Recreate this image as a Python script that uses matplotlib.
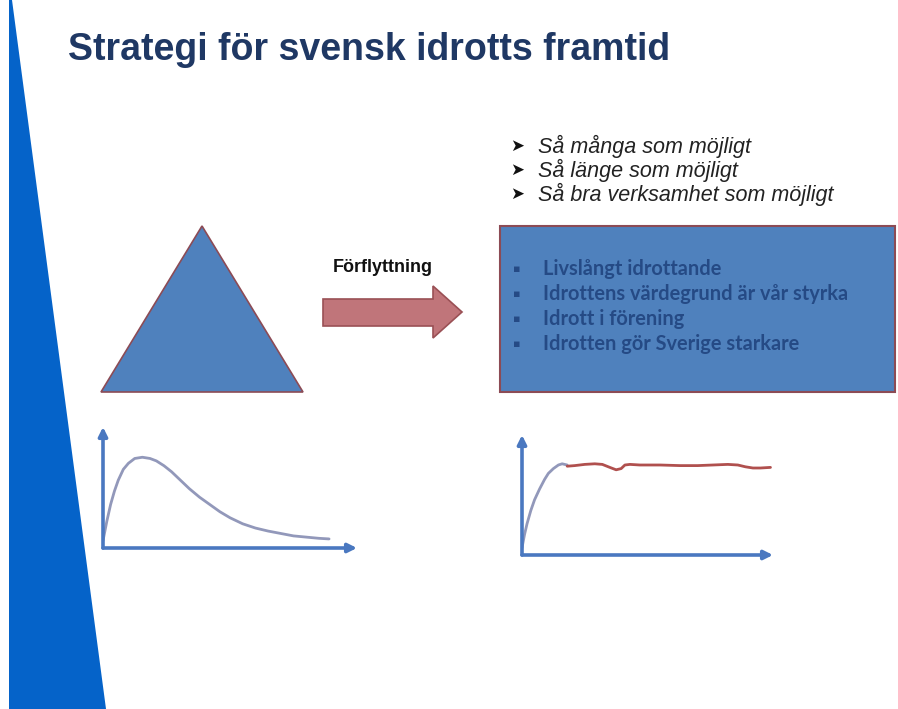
import matplotlib
matplotlib.use('Agg')
import matplotlib.pyplot as plt
from matplotlib.patches import Polygon, Rectangle

# text content
title = 'Strategi för svensk idrotts framtid'
goals = ['Så många som möjligt', 'Så länge som möjligt', 'Så bra verksamhet som möjligt']
values_list = ['Livslångt idrottande', 'Idrottens värdegrund är vår styrka',
               'Idrott i förening', 'Idrotten gör Sverige starkare']
arrow_label = 'Förflyttning'

# left sketch: participation peaks early then drops off
left_x = [0.0, 0.15, 0.3, 0.45, 0.6, 0.8, 1.0, 1.25, 1.55, 1.85, 2.1, 2.4, 2.7,
          3.0, 3.4, 3.8, 4.2, 4.6, 5.0, 5.5, 6.0, 6.5, 7.0, 7.5, 8.0, 8.5, 8.9]
left_y = [0.06, 0.22, 0.36, 0.47, 0.56, 0.65, 0.70, 0.74, 0.75, 0.74, 0.72, 0.68, 0.63,
          0.57, 0.49, 0.42, 0.36, 0.30, 0.25, 0.20, 0.165, 0.14, 0.12, 0.10, 0.09, 0.08, 0.075]

# right sketch: quick rise, then a steady level
rise_x = [0.0, 0.1, 0.2, 0.35, 0.5, 0.7, 0.9, 1.05, 1.25, 1.45, 1.6, 1.8]
rise_y = [0.06, 0.17, 0.26, 0.37, 0.46, 0.55, 0.63, 0.68, 0.72, 0.75, 0.76, 0.75]
flat_x = [1.8, 2.1, 2.5, 2.9, 3.2, 3.5, 3.75, 3.95, 4.1, 4.3, 4.7, 5.5, 6.3, 7.0, 7.6,
          8.2, 8.6, 8.9, 9.2, 9.5, 9.9]
flat_y = [0.74, 0.745, 0.755, 0.76, 0.755, 0.73, 0.71, 0.72, 0.75, 0.755, 0.75, 0.75, 0.745,
          0.745, 0.75, 0.755, 0.75, 0.735, 0.725, 0.725, 0.73]

W, H = 898, 709
fig = plt.figure(figsize=(W / 100, H / 100), dpi=100)
fig.set_facecolor('white')

ax = fig.add_axes([0, 0, 1, 1])
ax.set_xlim(0, W)
ax.set_ylim(H, 0)
ax.axis('off')

# blue wedge on the left edge
ax.add_patch(Polygon([(9, 0), (12, 0), (106, H), (9, H)], closed=True,
                     facecolor='#0563C9', edgecolor='none'))

ax.text(68, 50, title, fontsize=27, fontweight='bold', color='#1F3864',
        family='Liberation Sans', va='center', ha='left')

# triangle
ax.add_patch(Polygon([(202, 226), (101, 392), (303, 392)], closed=True,
                     facecolor='#4F81BD', edgecolor='#8C4B55', lw=1.2))

# arrow
ax.add_patch(Polygon([(323, 299), (433, 299), (433, 286), (462, 312),
                      (433, 338), (433, 326), (323, 326)], closed=True,
                     facecolor='#C0757A', edgecolor='#9A5055', lw=1.2))
ax.text(383, 268, arrow_label, fontsize=13, fontweight='bold', color='#111111',
        family='Liberation Sans', ha='center', va='center')

# goals above the box
for i, g in enumerate(goals):
    y = 146 + i * 24
    ax.text(510, y, '\u27a4', fontsize=12, color='#111111',
            family=['DejaVu Sans'], ha='left', va='center')
    ax.text(538, y, g, fontsize=15.5, style='italic', color='#222222',
            family='Liberation Sans', ha='left', va='center')

# box with core values
ax.add_patch(Rectangle((500, 226), 395, 166, facecolor='#4F81BD',
                       edgecolor='#8C4B55', lw=1.5))
for i, v in enumerate(values_list):
    y = 269 + i * 25
    ax.text(517, y, '\u25aa', fontsize=8, color='#254A85',
            family=['DejaVu Sans'], ha='center', va='center')
    ax.text(543, y, v, fontsize=14.4, fontweight='bold', color='#254A85',
            family='Lato', ha='left', va='center')


def sketch_axes(x0, x1, ybot, ytop):
    a = fig.add_axes([x0 / W, 1 - ybot / H, (x1 - x0) / W, (ybot - ytop) / H])
    a.set_xlim(0, 10)
    a.set_ylim(0, 1)
    a.axis('off')
    a.patch.set_alpha(0)
    arrow = dict(arrowstyle='-|>', color='#4A78C0', lw=2.6, mutation_scale=13,
                 shrinkA=0, shrinkB=0)
    a.annotate('', xy=(1, 0), xytext=(0, 0), xycoords='axes fraction', arrowprops=arrow)
    a.annotate('', xy=(0, 1), xytext=(0, 0), xycoords='axes fraction', arrowprops=arrow)
    return a


left_ax = sketch_axes(103, 357, 548, 427)
left_ax.plot(left_x, left_y, color='#9298BA', lw=2, solid_capstyle='round')

right_ax = sketch_axes(522, 773, 555, 435)
right_ax.plot(rise_x, rise_y, color='#9298BA', lw=2, solid_capstyle='round')
right_ax.plot(flat_x, flat_y, color='#B0504E', lw=2, solid_capstyle='round')

fig.savefig('out.png', dpi=100, facecolor='white')
